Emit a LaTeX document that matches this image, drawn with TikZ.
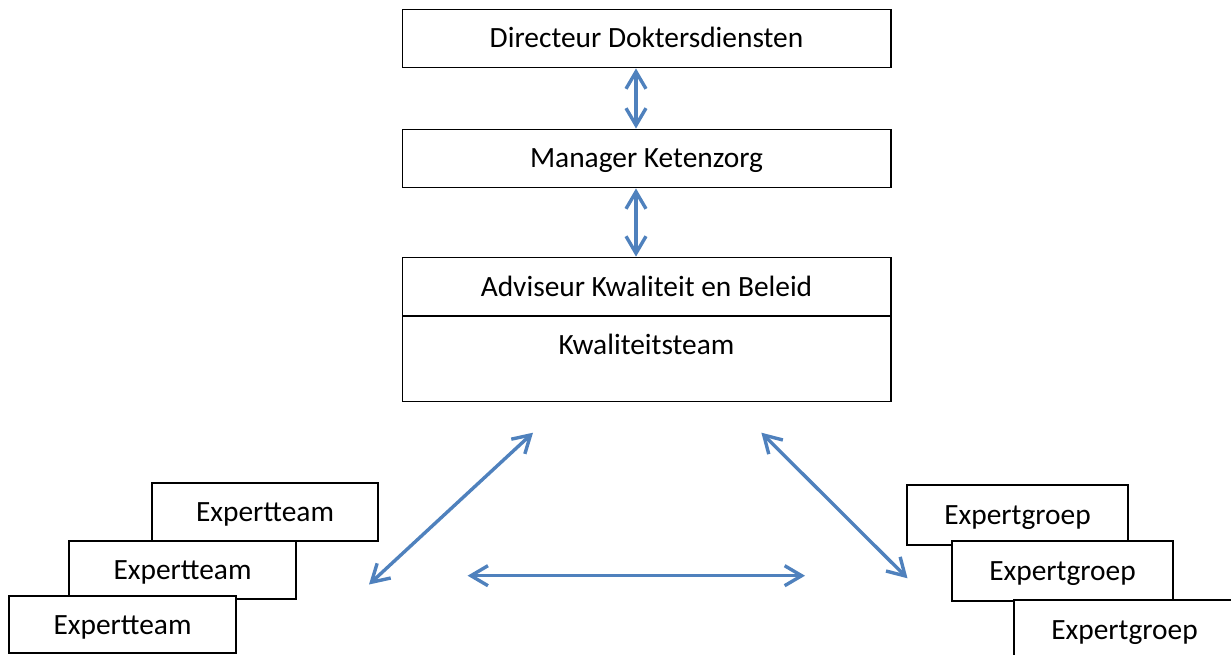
\documentclass[tikz,border=0pt]{standalone}
\usepackage{fontspec}
\setmainfont{Carlito}
\usetikzlibrary{arrows.meta}
\definecolor{arrowblue}{HTML}{4F81BD}
\begin{document}
\begin{tikzpicture}[x=1pt,y=-1pt,
  box/.style={draw=black, line width=1.5pt, fill=white, inner sep=0pt,
    font=\fontsize{29.4pt}{35pt}\selectfont, text height=19pt, text depth=-2.6pt},
  plain/.style={inner sep=0pt, font=\fontsize{29.4pt}{35pt}\selectfont, text height=19pt, text depth=-2.6pt},
  conn/.style={draw=arrowblue, line width=3.4pt,
    {Straight Barb[length=17pt,width=20pt]}-{Straight Barb[length=17pt,width=20pt]}}]
\useasboundingbox (0,0) rectangle (1231,655);
\clip (0,0) rectangle (1231,655);

% top column
\node[box, minimum width=488.5pt, minimum height=58.4pt] (dir) at (646.5,38.5) {Directeur Doktersdiensten};
\node[box, minimum width=488.5pt, minimum height=58.4pt] (man) at (646.5,158.5) {Manager Ketenzorg};
\node[box, minimum width=488.5pt, minimum height=58.7pt] (adv) at (646.5,286.7) {Adviseur Kwaliteit en Beleid};
\node[box, minimum width=488.5pt, minimum height=85.7pt] (kt) at (646.5,358.85) {};
\node[plain] (ktt) at (646.5,344.5) {Kwaliteitsteam};

% vertical connectors
\coordinate (va) at (636,0);
\draw[conn] (dir.south -| va) -- (man.north -| va);
\draw[conn] (man.south -| va) -- (adv.north -| va);

% left stack
\node[box, minimum width=226pt, minimum height=58pt] (et1) at (265,512) {Expertteam};
\node[box, minimum width=227pt, minimum height=58pt] (et2) at (182.5,570) {Expertteam};
\node[box, minimum width=227pt, minimum height=57pt] (et3) at (122.5,624.5) {Expertteam};

% right stack
\node[box, minimum width=221pt, minimum height=60pt] (eg1) at (1017.5,515) {Expertgroep};
\node[box, minimum width=221pt, minimum height=60pt] (eg2) at (1062.5,571) {Expertgroep};
\node[box, minimum width=221pt, minimum height=60pt] (eg3) at (1124.5,630) {Expertgroep};

% triangle connectors
\coordinate (l1) at (533,432.7);
\coordinate (l2) at (369,584.5);
\coordinate (h1) at (467.6,575.7);
\coordinate (h2) at (805,575.7);
\coordinate (r1) at (761.4,432.7);
\coordinate (r2) at (907.5,578.3);
\draw[conn] (l1) -- (l2);
\draw[conn] (h1) -- (h2);
\draw[conn] (r1) -- (r2);
\end{tikzpicture}
\end{document}
